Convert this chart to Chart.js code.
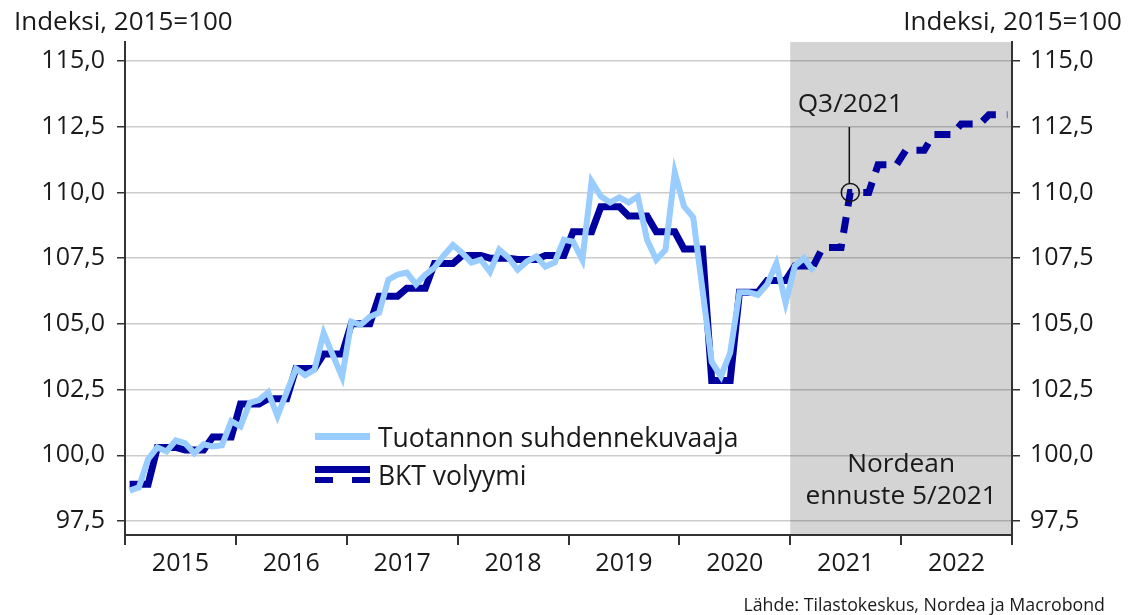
<!DOCTYPE html>
<html lang="fi">
<head>
<meta charset="UTF-8">
<title>Tuotannon suhdennekuvaaja ja BKT</title>
<script src="https://cdn.jsdelivr.net/npm/chart.js@4.4.1/dist/chart.umd.min.js"></script>
<style>
    body { margin: 0; background: #fff; font-family: "Open Sans", "Noto Sans", sans-serif; color: #1a1a1a; }
    #wrap { position: relative; width: 1128px; height: 615px; }
    .axtitle { position: absolute; top: 3px; font-size: 26px; line-height: 34px; }
    #source { position: absolute; right: 23px; top: 592px; font-size: 17.8px; line-height: 24px; }
    .leg { position: absolute; left: 315px; width: 55px; }
    .legtext { position: absolute; left: 378px; font-size: 26.5px; line-height: 34px; }
</style>
</head>
<body>
<div id="wrap">
    <canvas id="myChart" width="1128" height="615"></canvas>
    <div class="axtitle" style="left:14px">Indeksi, 2015=100</div>
    <div class="axtitle" style="right:6px">Indeksi, 2015=100</div>

    <!-- legend -->
    <div class="leg" style="top:433px;height:7px;background:#99ccff"></div>
    <div class="legtext" style="top:420px">Tuotannon suhdennekuvaaja</div>
    <div class="leg" style="top:466px;height:7px;background:#00009f"></div>
    <div class="leg" style="top:477px;height:6px;background:repeating-linear-gradient(90deg,#00009f 0 18px,transparent 18px 37px)"></div>
    <div class="legtext" style="top:458px">BKT volyymi</div>

    <div id="source">Lähde: Tilastokeskus, Nordea ja Macrobond</div>
</div>

<script>
// x axis years (monthly positions, 0 = Jan 2015)
var years = ['2015', '2016', '2017', '2018', '2019', '2020', '2021', '2022'];
var yTicks = [97.5, 100, 102.5, 105, 107.5, 110, 112.5, 115];

// Tuotannon suhdennekuvaaja, monthly 1/2015 - 3/2021
var trendIndicator = [
    98.66, 98.78, 99.85, 100.3, 100.15, 100.57, 100.46, 100.08, 100.42, 100.34, 100.38, 101.3,
    101.1, 102.0, 102.1, 102.4, 101.5, 102.4, 103.3, 103.05, 103.25, 104.65, 103.8, 102.98,
    105.08, 104.96, 105.27, 105.42, 106.68, 106.87, 106.95, 106.5, 106.87, 107.14, 107.6, 108.0,
    107.7, 107.33, 107.44, 106.98, 107.82, 107.52, 107.06, 107.37, 107.56, 107.18, 107.33, 108.2,
    108.13, 107.44, 110.42, 109.85, 109.62, 109.81, 109.62, 109.85, 108.2, 107.44, 107.82, 110.76,
    109.47, 109.05, 106.3, 103.55, 103.0, 103.9, 106.2, 106.2, 106.1, 106.5, 107.3, 105.8,
    107.2, 107.5, 107.0
];

// BKT volyymi, quarterly Q1/2015 - Q4/2022 (from Q2/2021 forecast)
var gdpQuarterly = [
    98.9, 100.3, 100.2, 100.7,
    101.95, 102.15, 103.3, 103.85,
    105.0, 106.05, 106.35, 107.3,
    107.6, 107.5, 107.45, 107.6,
    108.5, 109.45, 109.1, 108.5,
    107.85, 102.85, 106.2, 106.65,
    107.2, 107.9, 110.0, 111.05,
    111.6, 112.2, 112.6, 112.95
];
var forecastStartMonth = 74;   // dashed from here on
var shadeStartMonth = 72;      // Nordean ennuste area starts 2021
var q3Marker = { month: 78, value: 110.0, label: 'Q3/2021' };

// build point lists
var lightData = [];
for (var i = 0; i < trendIndicator.length; i++) {
    lightData.push({ x: i + 0.5, y: trendIndicator[i] });
}
var darkData = [];
for (var q = 0; q < gdpQuarterly.length; q++) {
    for (var m = 0; m < 3; m++) {
        darkData.push({ x: q * 3 + m + 0.5, y: gdpQuarterly[q] });
    }
}

var FONT = '"Open Sans", "Noto Sans", sans-serif';
var gridCol = 'rgba(0,0,0,0.2)';
var axisCol = '#333';

function fmt(v) {
    return v.toFixed(1).replace('.', ',');
}

var shadePlugin = {
    id: 'shade',
    beforeDraw: function (chart) {
        var ctx = chart.ctx, a = chart.chartArea;
        var x0 = chart.scales.x.getPixelForValue(shadeStartMonth);
        ctx.save();
        ctx.fillStyle = '#d4d4d4';
        ctx.fillRect(x0, a.top, a.right - x0, a.bottom - a.top);
        ctx.restore();
    },
    afterDatasetsDraw: function (chart) {
        var ctx = chart.ctx, a = chart.chartArea;
        var xs = chart.scales.x, ys = chart.scales.y;
        var x0 = xs.getPixelForValue(shadeStartMonth);
        ctx.save();
        ctx.fillStyle = '#1a1a1a';
        ctx.font = '26.3px ' + FONT;
        ctx.textAlign = 'center';
        ctx.textBaseline = 'middle';
        var cx = (x0 + a.right) / 2;
        ctx.fillText('Nordean', cx, 465);
        ctx.fillText('ennuste 5/2021', cx, 497);

        // Q3/2021 marker
        var px = xs.getPixelForValue(q3Marker.month + 0.5);
        var py = ys.getPixelForValue(q3Marker.value);
        ctx.strokeStyle = '#111';
        ctx.lineWidth = 1.5;
        ctx.beginPath();
        ctx.arc(px, py, 9, 0, Math.PI * 2);
        ctx.stroke();
        ctx.beginPath();
        ctx.moveTo(px - 1, py - 9);
        ctx.lineTo(px - 1, 127);
        ctx.stroke();
        ctx.fillText(q3Marker.label, px, 105);
        ctx.restore();
    }
};

var chart = new Chart(document.getElementById('myChart'), {
    type: 'line',
    data: {
        datasets: [
            {
                label: 'Tuotannon suhdennekuvaaja',
                data: lightData,
                borderColor: '#99ccff',
                borderWidth: 6,
                pointRadius: 0,
                tension: 0,
                fill: false
            },
            {
                label: 'BKT volyymi',
                data: darkData,
                borderColor: '#00009f',
                borderWidth: 7,
                pointRadius: 0,
                tension: 0,
                fill: false,
                segment: {
                    borderDash: function (c) {
                        return c.p0DataIndex >= forecastStartMonth ? [16, 11] : undefined;
                    }
                }
            }
        ]
    },
    options: {
        responsive: false,
        animation: false,
        devicePixelRatio: 1,
        layout: { padding: { top: 42, left: 0, right: 0, bottom: 0 } },
        plugins: { legend: { display: false }, tooltip: { enabled: false } },
        scales: {
            x: {
                type: 'linear',
                min: 0,
                max: years.length * 12,
                afterFit: function (s) { s.height = 80; },
                afterBuildTicks: function (s) {
                    var t = [];
                    for (var v = 0; v <= years.length * 12; v += 6) t.push({ value: v });
                    s.ticks = t;
                },
                ticks: {
                    autoSkip: false,
                    maxRotation: 0,
                    padding: 4,
                    color: '#1a1a1a',
                    font: { family: FONT, size: 25 },
                    callback: function (v) {
                        return v % 12 === 6 ? years[(v - 6) / 12] : '';
                    }
                },
                grid: {
                    drawOnChartArea: false,
                    tickLength: 10,
                    lineWidth: 2,
                    color: function (c) {
                        return c.tick && c.tick.value % 12 === 0 ? axisCol : 'rgba(0,0,0,0)';
                    }
                },
                border: { display: true, color: axisCol, width: 2 }
            },
            y: {
                position: 'left',
                min: 96.97,
                max: 115.72,
                afterFit: function (s) { s.width = 125; },
                afterBuildTicks: function (s) {
                    s.ticks = yTicks.map(function (v) { return { value: v }; });
                },
                ticks: {
                    padding: 12,
                    color: '#1a1a1a',
                    font: { family: FONT, size: 25 },
                    callback: fmt
                },
                grid: { color: gridCol, lineWidth: 1.5, tickColor: axisCol, tickLength: 8 },
                border: { display: true, color: axisCol, width: 2 }
            },
            y2: {
                position: 'right',
                min: 96.97,
                max: 115.72,
                afterFit: function (s) { s.width = 116; },
                afterBuildTicks: function (s) {
                    s.ticks = yTicks.map(function (v) { return { value: v }; });
                },
                ticks: {
                    padding: 10,
                    color: '#1a1a1a',
                    font: { family: FONT, size: 25 },
                    callback: fmt
                },
                grid: { drawOnChartArea: false, tickColor: axisCol, tickLength: 8, lineWidth: 1.5 },
                border: { display: true, color: axisCol, width: 2 }
            }
        }
    },
    plugins: [shadePlugin]
});
</script>
</body>
</html>
